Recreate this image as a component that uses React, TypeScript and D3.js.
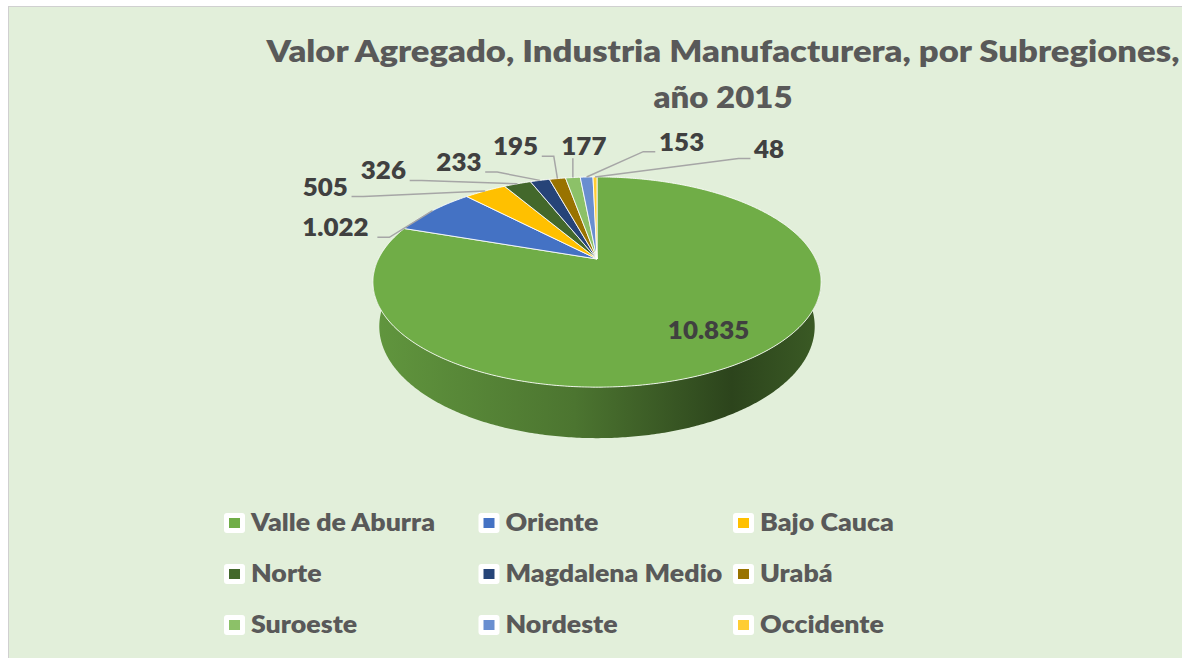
import React from 'react';
import * as d3 from 'd3';

// data
const categories = [
  'Valle de Aburra', 'Oriente', 'Bajo Cauca',
  'Norte', 'Magdalena Medio', 'Urabá',
  'Suroeste', 'Nordeste', 'Occidente',
];
const values = [10835, 1022, 505, 326, 233, 195, 177, 153, 48];
const colors = [
  '#70AD47', '#4472C4', '#FFC000',
  '#43682B', '#264478', '#997300',
  '#8CC168', '#698ED0', '#FFCD33',
];
const titleLines = ['Valor Agregado, Industria Manufacturera, por Subregiones,', 'año 2015'];

// label placement: offset of the label centre from the slice's rim point (first one sits inside)
const labelOffsets: [number, number][] = [
  [0, 0], [-97, 17], [-160, -4], [-134, -13], [-81, -18], [-42, -32], [11, -31], [95, -35], [174, -28],
];

const W = 1182;
const H = 658;

// simple perspective camera for the 3D pie
const TILT = (28 * Math.PI) / 180;
const sT = Math.sin(TILT);
const cT = Math.cos(TILT);
const DIST = 4.03;
const KX = 881;
const KY = 859;
const THICK = 0.238;
const CX = 597;
const CY = 259;

const proj = (theta: number, r: number, y: number): [number, number] => {
  const X = r * Math.sin(theta);
  const Z = -r * Math.cos(theta);
  const depth = DIST - y * sT - Z * cT;
  return [CX + (KX * X) / depth, CY + (KY * (Z * sT - y * cT)) / depth];
};

const esLocale = d3.formatLocale({ decimal: ',', thousands: '.', grouping: [3], currency: ['$', ''] });
const fmt = esLocale.format(',');

const FONT = "Lato, 'Open Sans', sans-serif";
const LABEL_SIZE = 24;
const STRETCH = 1.08; // Lato runs narrower than the original Calibri

const sample = (a0: number, a1: number, r: number, y: number) => {
  const n = Math.max(2, Math.ceil(Math.abs(a1 - a0) / 0.01));
  return d3.range(n + 1).map((i) => proj(a0 + ((a1 - a0) * i) / n, r, y));
};

const App: React.FC = () => {
  const pie = d3.pie<number>().sort(null).value((d) => d);
  const arcs = pie(values);
  const line = d3.line();

  const rim = sample(0, Math.PI * 2, 1, 0);
  const xMin = d3.min(rim, (p) => p[0]) as number;
  const xMax = d3.max(rim, (p) => p[0]) as number;

  // front-facing side bands
  const sides = arcs
    .map((a, i) => {
      const s = Math.max(a.startAngle, Math.PI / 2);
      const e = Math.min(a.endAngle, (Math.PI * 3) / 2);
      if (e <= s) return null;
      const top = sample(s, e, 1, 0);
      const bottom = sample(e, s, 1, -THICK);
      return { i, d: line([...top, ...bottom]) + 'Z', mid: (s + e) / 2 };
    })
    .filter(Boolean) as { i: number; d: string; mid: number }[];
  sides.sort((a, b) => Math.abs(Math.PI - b.mid) - Math.abs(Math.PI - a.mid));

  const tops = arcs.map((a, i) => {
    const pts = [proj(0, 0, 0), ...sample(a.startAngle, a.endAngle, 1, 0)];
    return { i, d: line(pts) + 'Z' };
  });

  const labels = arcs.map((a, i) => {
    const mid = (a.startAngle + a.endAngle) / 2;
    const text = fmt(values[i]);
    if (i === 0) {
      const [x, y] = proj(mid, 0.76, 0);
      return { i, text, x, y: y + LABEL_SIZE * 0.36, lines: null as string | null };
    }
    const anchor = proj(mid, 1, 0);
    const [ox, oy] = labelOffsets[i];
    const cx = anchor[0] + ox;
    const cy = anchor[1] + oy;
    const halfW = text.length * LABEL_SIZE * 0.3 * STRETCH;
    const base = cy + LABEL_SIZE * 0.36;
    let pts: [number, number][];
    if (Math.abs(ox) < halfW) {
      pts = [[anchor[0], base + 3], anchor];
    } else if (ox < 0) {
      const ax = cx + halfW + 3;
      pts = [[ax, base + 1], [ax + 12, base + 1], anchor];
    } else {
      const ax = cx - halfW - 3;
      pts = [[ax, base + 1], [ax - 12, base + 1], anchor];
    }
    return { i, text, x: cx, y: base, lines: line(pts) };
  });

  const legendX = d3.scaleLinear().domain([0, 1]).range([224, 478.5]);
  const legendY = d3.scaleLinear().domain([0, 1]).range([531, 582]);

  return (
    <svg width={W} height={H} style={{ position: 'absolute', left: 0, top: 0 }}>
      <defs>
        {colors.map((c, i) => {
          const col = d3.color(c)!;
          return (
            <linearGradient key={i} id={`side-${i}`} gradientUnits="userSpaceOnUse" x1={xMin} x2={xMax} y1={0} y2={0}>
              <stop offset="0%" stopColor={col.darker(0.4).formatHex()} />
              <stop offset="45%" stopColor={col.darker(1.1).formatHex()} />
              <stop offset="80%" stopColor={col.darker(2.6).formatHex()} />
              <stop offset="100%" stopColor={col.darker(1.8).formatHex()} />
            </linearGradient>
          );
        })}
      </defs>
      <rect x={0} y={0} width={W} height={H} fill="#ffffff" />
      <rect x={8.5} y={6.5} width={W + 20} height={H + 20} fill="#E2EFDA" stroke="#D0D0D0" strokeWidth={1} />

      {titleLines.map((t, i) => (
        <text
          key={i}
          x={723}
          y={62 + i * 46}
          textAnchor="middle"
          fontFamily={FONT}
          fontWeight={800}
          fontSize={31}
          fill="#595959"
          textLength={i === 0 ? 913 : 139}
          lengthAdjust="spacingAndGlyphs"
        >
          {t}
        </text>
      ))}

      <g>
        {sides.map((s) => (
          <path key={`s${s.i}`} d={s.d} fill={`url(#side-${s.i})`} />
        ))}
        {tops.map((t) => (
          <path key={`t${t.i}`} d={t.d} fill={colors[t.i]} stroke="#ffffff" strokeOpacity={0.85} strokeWidth={1} strokeLinejoin="round" />
        ))}
      </g>

      <g fontFamily={FONT} fontWeight={800} fontSize={LABEL_SIZE} fill="#404040">
        {labels.map((l) => (
          <g key={l.i}>
            {l.lines && <path d={l.lines} fill="none" stroke="#A6A6A6" strokeWidth={1.5} />}
            <g transform={`translate(${l.x},${l.y}) scale(${STRETCH},1)`}>
              <text x={0} y={0} textAnchor="middle">
                {l.text}
              </text>
            </g>
          </g>
        ))}
      </g>

      <g fontFamily={FONT} fontWeight={800} fontSize={25} fill="#595959">
        {categories.map((name, i) => {
          const col = i % 3;
          const row = Math.floor(i / 3);
          const x = legendX(col);
          const y = legendY(row);
          return (
            <g key={name} transform={`translate(${x},${y})`}>
              <rect x={0} y={-18} width={21} height={20} rx={3} fill="#ffffff" />
              <rect x={5} y={-13} width={11} height={10} fill={colors[i]} />
              <g transform="translate(27,0) scale(1.07,1)">
                <text x={0} y={0}>
                  {name}
                </text>
              </g>
            </g>
          );
        })}
      </g>
    </svg>
  );
};

export default App;
